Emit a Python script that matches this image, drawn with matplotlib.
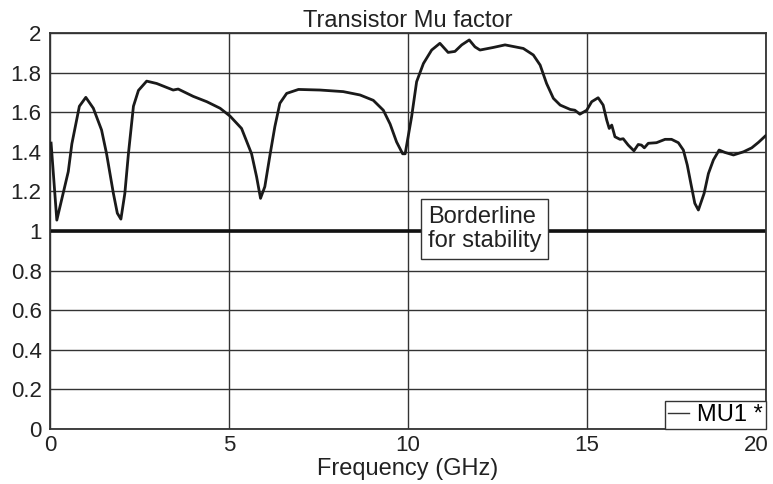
import numpy as np
import matplotlib.pyplot as plt
from matplotlib.lines import Line2D
from matplotlib.transforms import ScaledTranslation

plt.rcParams['font.family'] = ['Liberation Sans', 'DejaVu Sans']

# curve (GHz, Mu)
freq = [0.03, 0.19, 0.51, 0.61, 0.82, 1.0, 1.21, 1.44, 1.58, 1.77, 1.88, 1.98,
        2.09, 2.19, 2.33, 2.47, 2.70, 2.98, 3.44, 3.58, 4.0, 4.38, 4.75, 5.03,
        5.35, 5.63, 5.77, 5.88, 6.0, 6.15, 6.28, 6.42, 6.61, 6.94, 7.54, 8.19,
        8.66, 9.03, 9.31, 9.50, 9.68, 9.85, 9.92, 10.1, 10.24, 10.43, 10.66,
        10.89, 11.12, 11.31, 11.5, 11.71, 11.87, 12.01, 12.38, 12.71, 13.22,
        13.5, 13.69, 13.87, 14.06, 14.25, 14.53, 14.66, 14.8, 14.99, 15.13,
        15.31, 15.45, 15.55, 15.62, 15.69, 15.78, 15.92, 16.01, 16.15, 16.31,
        16.43, 16.52, 16.6, 16.71, 16.94, 17.18, 17.36, 17.55, 17.69, 17.8,
        17.9, 18.01, 18.11, 18.27, 18.39, 18.53, 18.69, 18.85, 19.09, 19.37,
        19.6, 19.79, 19.98]
mu1 = [1.444, 1.055, 1.30, 1.44, 1.63, 1.675, 1.62, 1.51, 1.39, 1.19, 1.09, 1.06,
       1.19, 1.39, 1.63, 1.71, 1.757, 1.745, 1.712, 1.717, 1.68, 1.653, 1.62, 1.58,
       1.518, 1.39, 1.274, 1.165, 1.224, 1.39, 1.527, 1.645, 1.695, 1.715, 1.712, 1.704,
       1.687, 1.66, 1.61, 1.54, 1.45, 1.39, 1.39, 1.577, 1.754, 1.846, 1.914,
       1.948, 1.902, 1.907, 1.94, 1.965, 1.93, 1.914, 1.927, 1.94, 1.922,
       1.889, 1.838, 1.745, 1.67, 1.636, 1.614, 1.61, 1.59, 1.61, 1.653,
       1.673, 1.636, 1.56, 1.518, 1.535, 1.476, 1.463, 1.466, 1.434, 1.405,
       1.437, 1.434, 1.42, 1.443, 1.446, 1.463, 1.463, 1.446, 1.409, 1.333,
       1.24, 1.14, 1.106, 1.19, 1.29, 1.359, 1.409, 1.397, 1.384, 1.40,
       1.42, 1.448, 1.48]

border = 1.0
xticks = [0, 5, 10, 15, 20]
yticks = [0, 0.2, 0.4, 0.6, 0.8, 1, 1.2, 1.4, 1.6, 1.8, 2]
ytick_labels = ['0', '0.2', '0.4', '0.6', '0.8', '1', '1.2', '1.4', '1.6', '1.8', '2']

FS = 16     # tick labels
FS_T = 17   # title, labels, box
txt_col = '#222222'
grid_col = '#333333'

fig = plt.figure(figsize=(7.73, 4.84), dpi=100)
ax = fig.add_axes([0.0647, 0.1136, 0.9263, 0.8182])

for x in xticks:
    ax.axvline(x, color=grid_col, lw=1.0, zorder=1)
for y in yticks:
    ax.axhline(y, color=grid_col, lw=1.0, zorder=1)
ax.axhline(border, color='#111111', lw=2.6, zorder=2)

ax.plot(freq, mu1, color='#1a1a1a', lw=2.0, zorder=3)

ax.set_xlim(0, 20)
ax.set_ylim(0, 2)
ax.set_xticks(xticks)
ax.set_xticklabels([str(x) for x in xticks])
ax.set_yticks(yticks)
ax.set_yticklabels(ytick_labels)
ax.tick_params(length=0, labelsize=FS, colors=txt_col)
ax.tick_params(axis='x', pad=4)
ax.tick_params(axis='y', pad=6)
for s in ax.spines.values():
    s.set_color(grid_col)
    s.set_linewidth(1.3)

# last x label sits flush with the right edge
last = ax.get_xticklabels()[-1]
last.set_horizontalalignment('right')
last.set_transform(last.get_transform() + ScaledTranslation(3 / 100, 0, fig.dpi_scale_trans))

ax.set_title('Transistor Mu factor', fontsize=FS_T, color=txt_col, pad=4)
ax.set_xlabel('Frequency (GHz)', fontsize=FS_T, color=txt_col, labelpad=2)

ax.text(10.55, 1.01, 'Borderline\nfor stability', fontsize=FS_T, color=txt_col,
        ha='left', va='center', linespacing=1.1, zorder=4,
        bbox=dict(boxstyle='square,pad=0.3', fc='white', ec='#333333', lw=1))

handle = Line2D([], [], color='#333333', lw=1)
leg = ax.legend([handle], ['MU1 *'], loc='lower right', borderaxespad=0,
                fancybox=False, framealpha=1, edgecolor='#333333', fontsize=FS_T,
                handlelength=0.9, handletextpad=0.35, borderpad=0.12)
leg.get_frame().set_linewidth(1)
leg.set_zorder(5)

fig.savefig('out.png', dpi=100)
